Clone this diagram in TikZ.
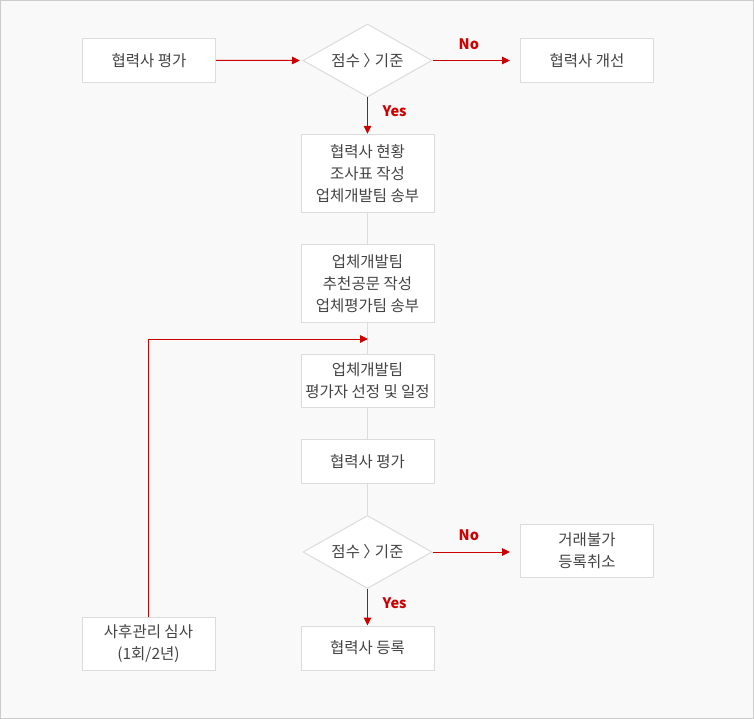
\documentclass[tikz,border=0pt]{standalone}
\usepackage{fontspec}
\setmainfont{Noto Sans CJK KR}
\usetikzlibrary{shapes.geometric,arrows.meta}
\definecolor{bgc}{HTML}{F9F9F9}
\definecolor{framec}{HTML}{CCCCCC}
\definecolor{boxc}{HTML}{DCDCDC}
\definecolor{txtc}{HTML}{444444}
\definecolor{redc}{HTML}{CC0000}
\tikzset{
  stepbox/.style={draw=boxc, fill=white, line width=1pt, inner sep=0pt,
    minimum width=133pt, align=center, text=txtc,
    font=\fontsize{15.5pt}{22pt}\selectfont},
  decide/.style={diamond, draw=boxc, fill=white, line width=1pt, inner sep=0pt,
    aspect=1.75, minimum width=129pt, minimum height=73pt, text=txtc,
    font=\fontsize{15.5pt}{22pt}\selectfont},
  link/.style={draw=boxc, line width=1pt},
  redarrow/.style={draw=redc, line width=1pt, -{Triangle[length=8pt,width=7.5pt]}},
  yn/.style={text=redc, font=\fontsize{14.5pt}{16pt}\selectfont\bfseries, inner sep=0pt}
}
\begin{document}
\begin{tikzpicture}[x=1pt,y=-1pt]
\useasboundingbox (0,0) rectangle (754,719);
\fill[bgc] (0,0) rectangle (754,719);
\draw[framec, line width=1pt] (0.5,0.5) rectangle (753.5,718.5);

\node[stepbox, minimum height=44pt] (a1) at (149,60.3) {협력사 평가};
\node[decide] (d1) at (367.5,60.5) {점수 〉\kern-4pt 기준};
\node[stepbox, minimum height=44pt] (a2) at (587,60.3) {협력사 개선};

\node[stepbox, minimum height=78pt] (b1) at (367.5,173.3) {협력사 현황\\조사표 작성\\업체개발팀 송부};
\node[stepbox, minimum height=78pt] (b2) at (367.5,283.3) {업체개발팀\\추천공문 작성\\업체평가팀 송부};
\node[stepbox, minimum height=53pt] (b3) at (367.5,380.5) {업체개발팀\\평가자 선정 및 일정};
\node[stepbox, minimum height=44pt] (b4) at (367.5,461.3) {협력사 평가};
\node[decide] (d2) at (367.5,552) {점수 〉\kern-4pt 기준};
\node[stepbox, minimum height=53pt] (c1) at (587,550.8) {거래불가\\등록취소};
\node[stepbox, minimum height=44pt] (c2) at (367.5,648) {협력사 등록};
\node[stepbox, minimum height=53pt] (e1) at (148.5,643.8) {사후관리 심사\\(1회/2년)};

% gray links
\draw[link] (b1.south) -- (b2.north);
\draw[link] (b2.south) -- (b3.north);
\draw[link] (b3.south) -- (b4.north);
\draw[link] (b4.south) -- (d2.north);

% red arrows
\coordinate (t1) at (300,60.5);
\coordinate (t2) at (510,60.5);
\coordinate (t3) at (510,552);
\coordinate (j) at (368,339);
\draw[redarrow] (a1.east) -- (t1);
\draw[redarrow] (d1.east) -- (t2);
\draw[redarrow] (d1.south) -- (b1.north);
\draw[redarrow] (d2.east) -- (t3);
\draw[redarrow] (d2.south) -- (c2.north);
\draw[redarrow] (e1.north) |- (j);

% labels
\node[yn, anchor=west] (n1) at (458.5,44) {No};
\node[yn, anchor=west] (y1) at (382.5,111.5) {Yes};
\node[yn, anchor=west] (n2) at (458.5,535) {No};
\node[yn, anchor=west] (y2) at (382.5,603) {Yes};
\end{tikzpicture}
\end{document}
